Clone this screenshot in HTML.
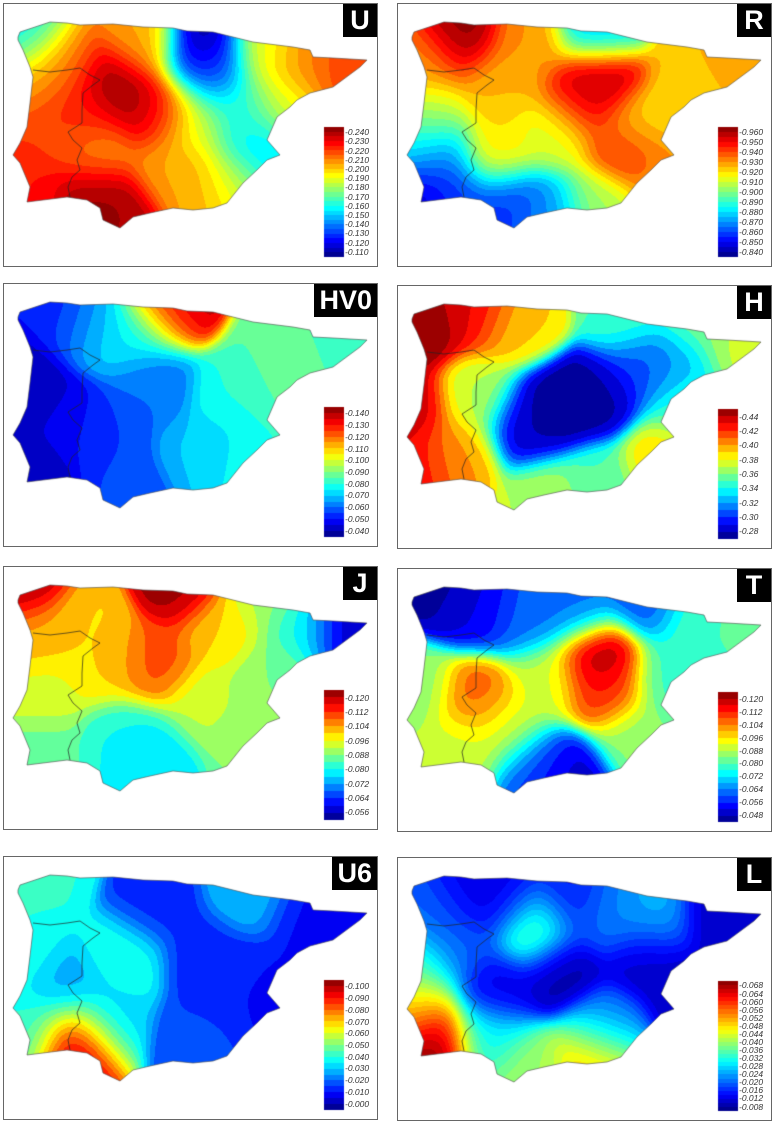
<!DOCTYPE html>
<html><head><meta charset="utf-8"><style>
body{margin:0;background:#fff;width:776px;height:1124px;position:relative;overflow:hidden;font-family:"Liberation Sans",sans-serif}
.panel{position:absolute;border:1px solid #666;box-sizing:border-box;background:#fff}
.lbl{position:absolute;top:0;right:0;background:#000;color:#fff;font-weight:bold;font-size:27px;line-height:33px;height:33px;text-align:center;padding:0 5px;min-width:24px}
.tick{position:absolute;font-size:8.5px;font-style:italic;color:#333;line-height:9px}
</style></head><body>
<script>
// ---- data (panel-relative station coords [x,y] and values) ----
const panelNames=["U","R","HV0","H","J","T","U6","L"];
const ptsU=[[25,38,0.155],[110,85,0.245],[155,108,0.235],[80,110,0.225],[200,40,0.105],[205,70,0.135],[240,110,0.16],[255,150,0.15],[340,65,0.22],[300,60,0.21],[85,190,0.245],[115,215,0.24],[30,190,0.225],[90,150,0.205],[170,165,0.205],[200,190,0.205],[190,120,0.185],[140,40,0.205],[60,60,0.215],[230,180,0.185],[280,100,0.19],[55,130,0.22],[260,45,0.19],[35,75,0.21]];
const ptsR=[[63,34,0.965],[203,78,0.965],[185,100,0.95],[345,70,0.93],[300,60,0.925],[30,60,0.93],[30,110,0.91],[20,140,0.885],[25,190,0.84],[40,160,0.865],[100,150,0.92],[110,200,0.855],[150,210,0.87],[200,28,0.875],[200,200,0.905],[240,120,0.915],[228,144,0.95],[270,170,0.93],[130,40,0.93],[100,80,0.925],[160,130,0.91],[300,100,0.92],[60,200,0.86]];
const ptsHV0=[[177,12,0.145],[160,22,0.115],[20,100,0.04],[30,200,0.04],[60,30,0.05],[290,80,0.09],[270,60,0.085],[340,60,0.08],[230,110,0.08],[150,100,0.06],[100,150,0.055],[200,170,0.07],[120,210,0.055],[250,180,0.08],[60,140,0.045],[130,50,0.075],[90,40,0.07]];
const ptsH=[[20,40,0.455],[40,20,0.44],[10,120,0.44],[20,180,0.43],[80,25,0.43],[160,120,0.27],[200,110,0.275],[130,140,0.28],[245,80,0.3],[280,80,0.32],[340,60,0.375],[300,35,0.36],[265,175,0.39],[150,212,0.37],[200,200,0.35],[120,40,0.39],[80,110,0.37],[60,170,0.4],[230,35,0.35],[290,120,0.35]];
const ptsJ=[[20,20,0.122],[180,15,0.122],[150,100,0.11],[340,60,0.055],[300,60,0.08],[270,110,0.088],[150,190,0.076],[120,170,0.08],[40,190,0.085],[40,130,0.094],[80,60,0.1],[250,180,0.088],[100,100,0.1],[220,60,0.1],[200,140,0.093],[30,70,0.102],[260,30,0.09]];
const ptsT=[[40,20,0.046],[80,40,0.052],[130,50,0.062],[200,90,0.125],[210,120,0.11],[80,130,0.108],[250,30,0.06],[300,50,0.08],[340,60,0.08],[270,110,0.078],[140,200,0.06],[170,212,0.048],[60,180,0.09],[20,120,0.085],[110,160,0.09],[240,170,0.085],[150,110,0.09],[180,40,0.062]];
const ptsU6=[[72,184,0.105],[40,20,0.04],[120,100,0.04],[250,40,0.03],[20,100,0.04],[60,130,0.025],[200,100,0.012],[300,60,0.008],[150,50,0.012],[280,150,0.008],[200,180,0.015],[100,160,0.03],[30,170,0.04],[340,70,0.008],[240,120,0.01]];
const ptsL=[[136,72,0.042],[256,61,0.026],[213,56,0.022],[36,188,0.07],[20,150,0.05],[20,110,0.035],[75,40,0.012],[110,45,0.012],[170,45,0.014],[160,110,0.008],[250,100,0.01],[320,60,0.01],[290,140,0.01],[210,170,0.02],[200,198,0.052],[130,215,0.04],[90,180,0.03],[60,90,0.02],[100,130,0.012],[40,60,0.02]];
const ptsAll=[ptsU,ptsR,ptsHV0,ptsH,ptsJ,ptsT,ptsU6,ptsL];
const tickU=["0.240","0.230","0.220","0.210","0.200","0.190","0.180","0.170","0.160","0.150","0.140","0.130","0.120","0.110"];
const tickR=["0.960","0.950","0.940","0.930","0.920","0.910","0.900","0.890","0.880","0.870","0.860","0.850","0.840"];
const tickHV0=["0.140","0.130","0.120","0.110","0.100","0.090","0.080","0.070","0.060","0.050","0.040"];
const tickH=["0.44","0.42","0.40","0.38","0.36","0.34","0.32","0.30","0.28"];
const tickJ=["0.120","0.112","0.104","0.096","0.088","0.080","0.072","0.064","0.056"];
const tickT=["0.120","0.112","0.104","0.096","0.088","0.080","0.072","0.064","0.056","0.048"];
const tickU6=["0.100","0.090","0.080","0.070","0.060","0.050","0.040","0.030","0.020","0.010","0.000"];
const tickL=["0.068","0.064","0.060","0.056","0.052","0.048","0.044","0.040","0.036","0.032","0.028","0.024","0.020","0.016","0.012","0.008"];
const ticksAll=[tickU,tickR,tickHV0,tickH,tickJ,tickT,tickU6,tickL];
// ---- layout ----
const panelBox=[[3,3],[397,3],[3,283],[397,285],[3,566],[397,568],[3,856],[397,857]];
const PW=375,PH=264;
const coast=[[18,37],[20,32],[50,22],[67,23],[80,25],[113,24],[143,27],[173,28],[187,31],[213,32],[233,37],[253,42],[293,47],[310,50],[313,57],[333,58],[367,60],[360,67],[333,87],[310,93],[297,100],[290,107],[277,117],[267,140],[280,155],[267,160],[257,170],[243,183],[227,203],[213,208],[193,210],[173,208],[150,213],[133,217],[120,228],[103,220],[100,208],[87,200],[67,197],[43,200],[27,202],[30,187],[20,163],[13,155],[20,143],[27,127],[30,103],[33,77],[30,67],[23,50],[18,40]].map(p=>[p[0]-3,p[1]-3]);
const border=[[33,70],[50,72],[67,70],[80,68],[90,75],[100,80],[93,85],[83,93],[82,110],[82,123],[68,132],[73,140],[82,148],[77,160],[80,170],[72,177],[68,187],[70,197]].map(p=>[p[0]-3,p[1]-3]);
function jet(t){const c=x=>Math.max(0,Math.min(1,x));return [c(1.5-Math.abs(4*t-3))*255,c(1.5-Math.abs(4*t-2))*255,c(1.5-Math.abs(4*t-1))*255];}
const BAR_X=321,BAR_T=124,BAR_B=254;
panelNames.forEach((name,i)=>{
  const ticks=ticksAll[i].map(Number);
  const tmax=ticks[0],tmin=ticks[ticks.length-1],step=(tmax-tmin)/(ticks.length-1);
  const vmax=tmax+step*0.55,vmin=tmin-step*0.55;
  const nlev=Math.round((vmax-vmin)/step*2);
  const p=document.createElement('div');
  
  
  p.className='panel';
  p.style.left=panelBox[i][0]+'px';p.style.top=panelBox[i][1]+'px';p.style.width=PW+'px';p.style.height=PH+'px';
  document.body.appendChild(p);
  const cv=document.createElement('canvas');
  
  
  cv.width=PW;cv.height=PH;cv.style.position='absolute';cv.style.left='-1px';cv.style.top='-1px';
  p.appendChild(cv);
  const off=document.createElement('canvas');off.width=PW;off.height=PH;
  const oc=off.getContext('2d');const img=oc.createImageData(PW,PH);
  const pts=ptsAll[i];
  for(let y=0;y<PH;y++)for(let x=0;x<PW;x++){
    let sw=0,sv=0;
    for(const q of pts){const d2=(x-q[0])**2+(y-q[1])**2;const w=Math.exp(-d2/1000)+2e-3/(1+d2/200);sw+=w;sv+=w*q[2];}
    const v=sv/sw;let k=Math.floor((v-vmin)/(vmax-vmin)*nlev);k=Math.max(0,Math.min(nlev-1,k));
    const col=jet((k+0.5)/nlev);const o=(y*PW+x)*4;
    img.data[o]=col[0];img.data[o+1]=col[1];img.data[o+2]=col[2];img.data[o+3]=255;
  }
  oc.putImageData(img,0,0);
  const ctx=cv.getContext('2d');
  ctx.save();ctx.beginPath();coast.forEach((q,j)=>j?ctx.lineTo(q[0],q[1]):ctx.moveTo(q[0],q[1]));ctx.closePath();ctx.clip();
  ctx.drawImage(off,0,0);
  ctx.restore();
  ctx.strokeStyle='#222';ctx.lineWidth=0.7;
  ctx.beginPath();border.forEach((q,j)=>j?ctx.lineTo(q[0],q[1]):ctx.moveTo(q[0],q[1]));ctx.stroke();
  ctx.strokeStyle='#444';ctx.lineWidth=0.6;
  ctx.beginPath();coast.forEach((q,j)=>j?ctx.lineTo(q[0],q[1]):ctx.moveTo(q[0],q[1]));ctx.closePath();ctx.stroke();
  const bh=BAR_B-BAR_T;
  for(let y=0;y<bh;y++){const v=vmax-(y+0.5)/bh*(vmax-vmin);let k=Math.floor((v-vmin)/(vmax-vmin)*nlev);k=Math.max(0,Math.min(nlev-1,k));const c=jet((k+0.5)/nlev);ctx.fillStyle='rgb('+c.map(Math.round).join(',')+')';ctx.fillRect(BAR_X,BAR_T+y,20,1);}
  ticksAll[i].forEach((t,j)=>{
    const ty=BAR_T+(vmax-Number(t))/(vmax-vmin)*bh;
    const d=document.createElement('div');
    
    
    d.className='tick';d.textContent='-'+t;d.style.left=(BAR_X+20)+'px';d.style.top=(ty-5)+'px';
    p.appendChild(d);
  });
  const lb=document.createElement('div');
  
  
  lb.className='lbl';lb.textContent=name;
  p.appendChild(lb);
});
</script>
</body></html>
